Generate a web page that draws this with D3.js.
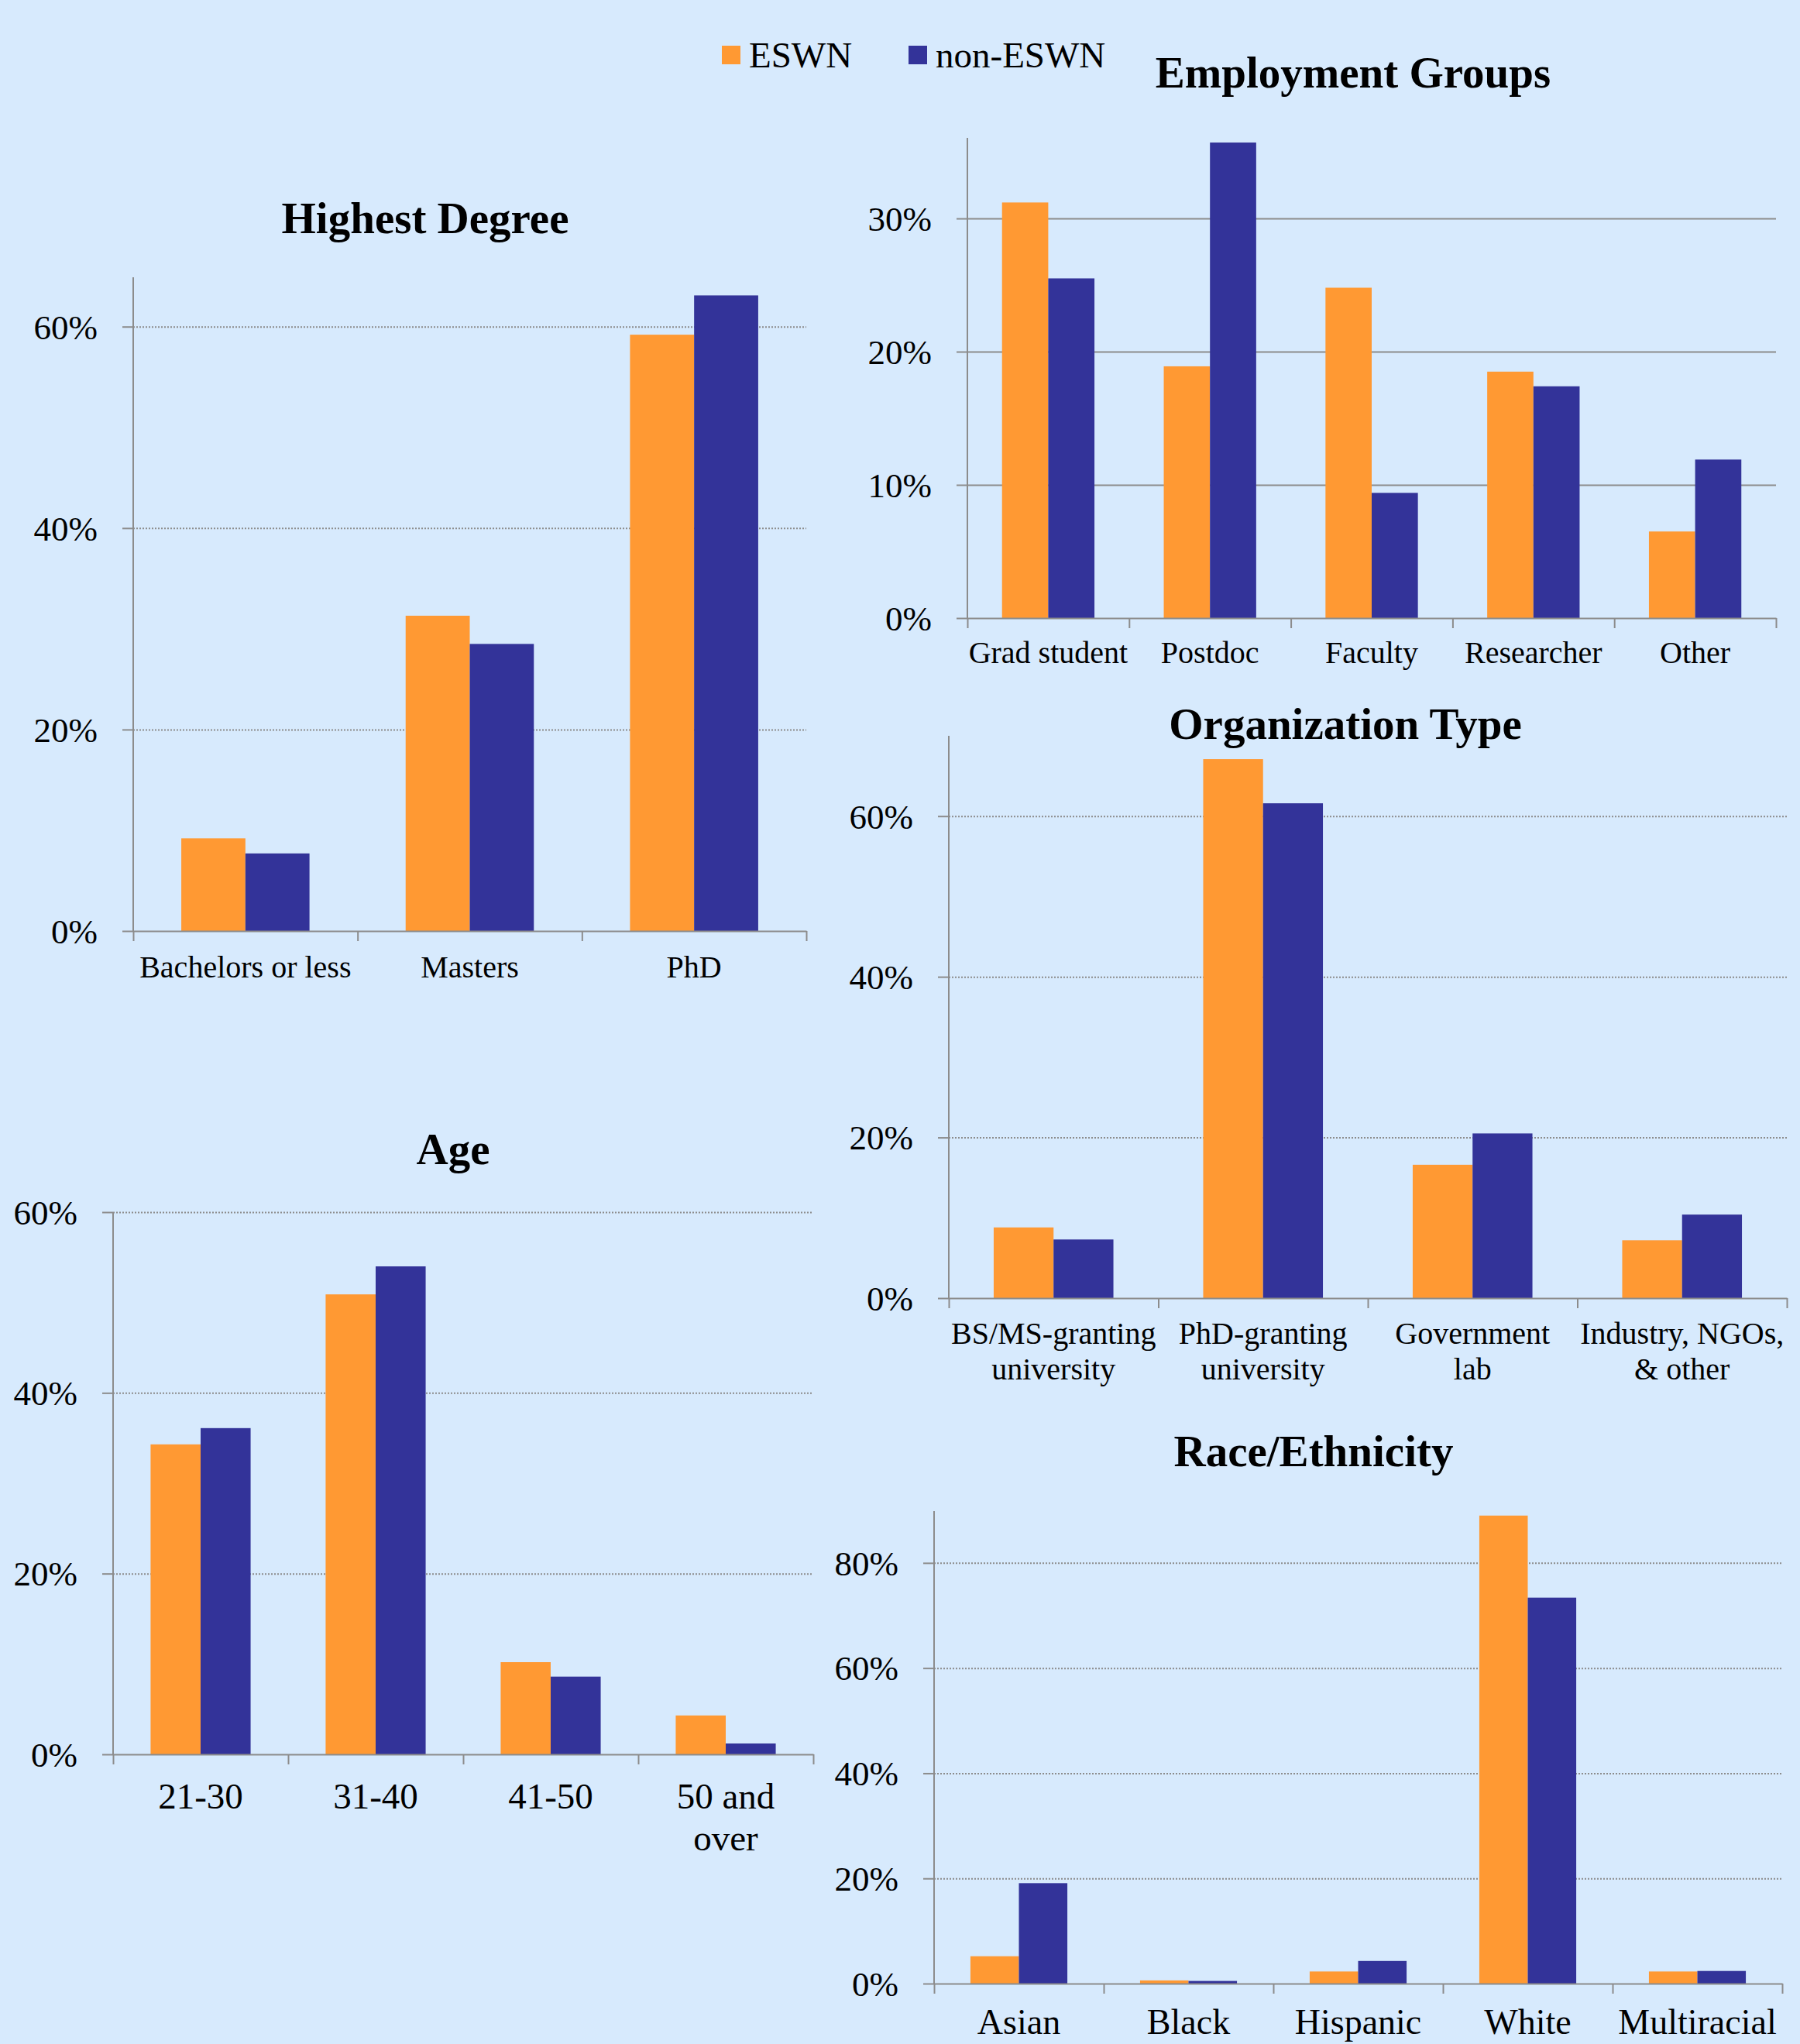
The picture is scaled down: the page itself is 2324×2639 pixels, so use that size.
<!DOCTYPE html>
<html>
<head>
<meta charset="utf-8">
<script src="https://cdn.jsdelivr.net/npm/d3@7"></script>
<style>
	html, body { margin: 0; padding: 0; background: #d7eafd; }
	svg { display: block; }
	text { font-family: "Liberation Serif", "Times New Roman", serif; fill: #000; }
</style>
</head>
<body>
<svg id="chart"></svg>
<script>
// series
var seriesNames = ['ESWN', 'non-ESWN'];
var colors = ['#ff9933', '#333399'];

// Highest Degree
var degreeCats = ['Bachelors or less', 'Masters', 'PhD'];
var degreeESWN = [9.2, 31.3, 59.2];
var degreeNon = [7.7, 28.5, 63.1];
var degreeTicks = [0, 20, 40, 60];

// Employment Groups
var employCats = ['Grad student', 'Postdoc', 'Faculty', 'Researcher', 'Other'];
var employESWN = [31.2, 18.9, 24.8, 18.5, 6.5];
var employNon = [25.5, 35.7, 9.4, 17.4, 11.9];
var employTicks = [0, 10, 20, 30];

// Organization Type
var orgCats = ['BS/MS-granting\nuniversity', 'PhD-granting\nuniversity', 'Government\nlab', 'Industry, NGOs,\n& other'];
var orgESWN = [8.8, 67.1, 16.6, 7.2];
var orgNon = [7.3, 61.6, 20.5, 10.4];
var orgTicks = [0, 20, 40, 60];

// Age
var ageCats = ['21-30', '31-40', '41-50', '50 and\nover'];
var ageESWN = [34.3, 50.9, 10.2, 4.3];
var ageNon = [36.1, 54.0, 8.6, 1.2];
var ageTicks = [0, 20, 40, 60];

// Race/Ethnicity
var raceCats = ['Asian', 'Black', 'Hispanic', 'White', 'Multiracial'];
var raceESWN = [5.2, 0.6, 2.3, 89.0, 2.3];
var raceNon = [19.1, 0.5, 4.3, 73.4, 2.4];
var raceTicks = [0, 20, 40, 60, 80];

let w = 2324;
let h = 2639;

let chart = d3.select('#chart')
	.attr('width', w)
	.attr('height', h);

chart.append('rect')
	.attr('width', w)
	.attr('height', h)
	.style('fill', '#d7eafd');

var color = d3.scaleOrdinal().domain(seriesNames).range(colors);

function drawPanel(p) {
	let g = chart.append('g');

	let x = d3.scaleBand()
		.domain(p.cats)
		.range([p.x0, p.x1])
		.padding(0);

	let xSub = d3.scaleBand()
		.domain(seriesNames)
		.range([0, x.bandwidth()])
		.paddingInner(0)
		.paddingOuter(0.75);

	let y = d3.scaleLinear()
		.domain([0, p.yMax])
		.range([p.y0, p.yTop]);

	// gridlines
	g.append('g')
		.attr('transform', 'translate(' + p.x0 + ',0)')
		.call(d3.axisLeft(y).tickValues(p.ticks.filter(t => t > 0)).tickSize(-(p.x1 - p.x0)).tickFormat(''))
		.call(s => s.select('.domain').remove())
		.selectAll('line')
		.style('stroke', '#8c8c8c')
		.style('stroke-width', 2)
		.style('stroke-dasharray', p.solid ? null : '2,2');

	// bars
	let rows = p.cats.map((c, i) => ({ cat: c, vals: [p.eswn[i], p.non[i]] }));
	g.selectAll('g.grp')
		.data(rows)
		.enter()
		.append('g')
		.attr('transform', d => 'translate(' + x(d.cat) + ',0)')
		.selectAll('rect')
		.data(d => d.vals.map((v, k) => ({ key: seriesNames[k], v: v })))
		.enter()
		.append('rect')
		.attr('x', d => xSub(d.key))
		.attr('width', xSub.bandwidth())
		.attr('y', d => y(d.v))
		.attr('height', d => p.y0 - y(d.v))
		.style('fill', d => color(d.key));

	// y axis
	let yAxis = g.append('g')
		.attr('transform', 'translate(' + p.x0 + ',0)')
		.call(d3.axisLeft(y).tickValues(p.ticks).tickSize(14).tickSizeOuter(0).tickPadding(32).tickFormat(d => d + '%'));
	yAxis.attr('font-family', null);
	yAxis.select('.domain').attr('d', 'M0,' + p.y0 + 'V' + p.yTop);
	yAxis.selectAll('path, line').style('stroke', '#8c8c8c').style('stroke-width', 2);
	yAxis.selectAll('text')
		.style('font-family', '"Liberation Serif", "Times New Roman", serif')
		.style('font-size', p.tickFont + 'px')
		.attr('dy', '0.34em');

	// x axis with ticks at category boundaries
	let xb = d3.scaleLinear().domain([0, p.cats.length]).range([p.x0, p.x1]);
	let xAxis = g.append('g')
		.attr('transform', 'translate(0,' + p.y0 + ')')
		.call(d3.axisBottom(xb).ticks(p.cats.length).tickSize(13).tickSizeOuter(0).tickFormat(''));
	xAxis.selectAll('path, line').style('stroke', '#8c8c8c').style('stroke-width', 2);

	// category labels
	let lab = g.selectAll('text.cat')
		.data(p.cats)
		.enter()
		.append('text')
		.classed('cat', true)
		.attr('x', d => x(d) + x.bandwidth() / 2)
		.attr('y', p.y0 + p.labOffset)
		.style('text-anchor', 'middle')
		.style('font-size', p.catFont + 'px');
	lab.selectAll('tspan')
		.data(d => d.split('\n'))
		.enter()
		.append('tspan')
		.attr('x', function () { return d3.select(this.parentNode).attr('x'); })
		.attr('dy', (d, i) => i === 0 ? 0 : p.lineH)
		.text(d => d);

	// title
	g.append('text')
		.attr('x', p.titleX)
		.attr('y', p.titleY)
		.style('text-anchor', 'middle')
		.style('font-size', '57px')
		.style('font-weight', 'bold')
		.text(p.title);
}

drawPanel({
	title: 'Highest Degree', titleX: 549, titleY: 301,
	cats: degreeCats, eswn: degreeESWN, non: degreeNon, ticks: degreeTicks,
	x0: 172, x1: 1041, y0: 1202, yTop: 358, yMax: 64.9,
	tickFont: 45, catFont: 40, labOffset: 60, lineH: 46
});

drawPanel({
	title: 'Employment Groups', titleX: 1747, titleY: 113, solid: true,
	cats: employCats, eswn: employESWN, non: employNon, ticks: employTicks,
	x0: 1249, x1: 2293, y0: 798, yTop: 178, yMax: 36.05,
	tickFont: 45, catFont: 40, labOffset: 58, lineH: 46
});

drawPanel({
	title: 'Organization Type', titleX: 1737, titleY: 954,
	cats: orgCats, eswn: orgESWN, non: orgNon, ticks: orgTicks,
	x0: 1225, x1: 2307, y0: 1676, yTop: 950, yMax: 70,
	tickFont: 45, catFont: 40, labOffset: 59, lineH: 46
});

drawPanel({
	title: 'Age', titleX: 585, titleY: 1503,
	cats: ageCats, eswn: ageESWN, non: ageNon, ticks: ageTicks,
	x0: 146, x1: 1050, y0: 2265, yTop: 1565, yMax: 60,
	tickFont: 45, catFont: 47, labOffset: 70, lineH: 54
});

drawPanel({
	title: 'Race/Ethnicity', titleX: 1696, titleY: 1893,
	cats: raceCats, eswn: raceESWN, non: raceNon, ticks: raceTicks,
	x0: 1206, x1: 2301, y0: 2561, yTop: 1951, yMax: 89.85,
	tickFont: 45, catFont: 46, labOffset: 65, lineH: 54
});

// legend
let legend = chart.append('g');
let legendX = [932, 1173];
seriesNames.forEach((s, i) => {
	legend.append('rect')
		.attr('x', legendX[i])
		.attr('y', 59)
		.attr('width', 24)
		.attr('height', 24)
		.style('fill', color(s));
	legend.append('text')
		.attr('x', legendX[i] + 35)
		.attr('y', 87)
		.style('font-size', '47px')
		.text(s);
});
</script>
</body>
</html>
